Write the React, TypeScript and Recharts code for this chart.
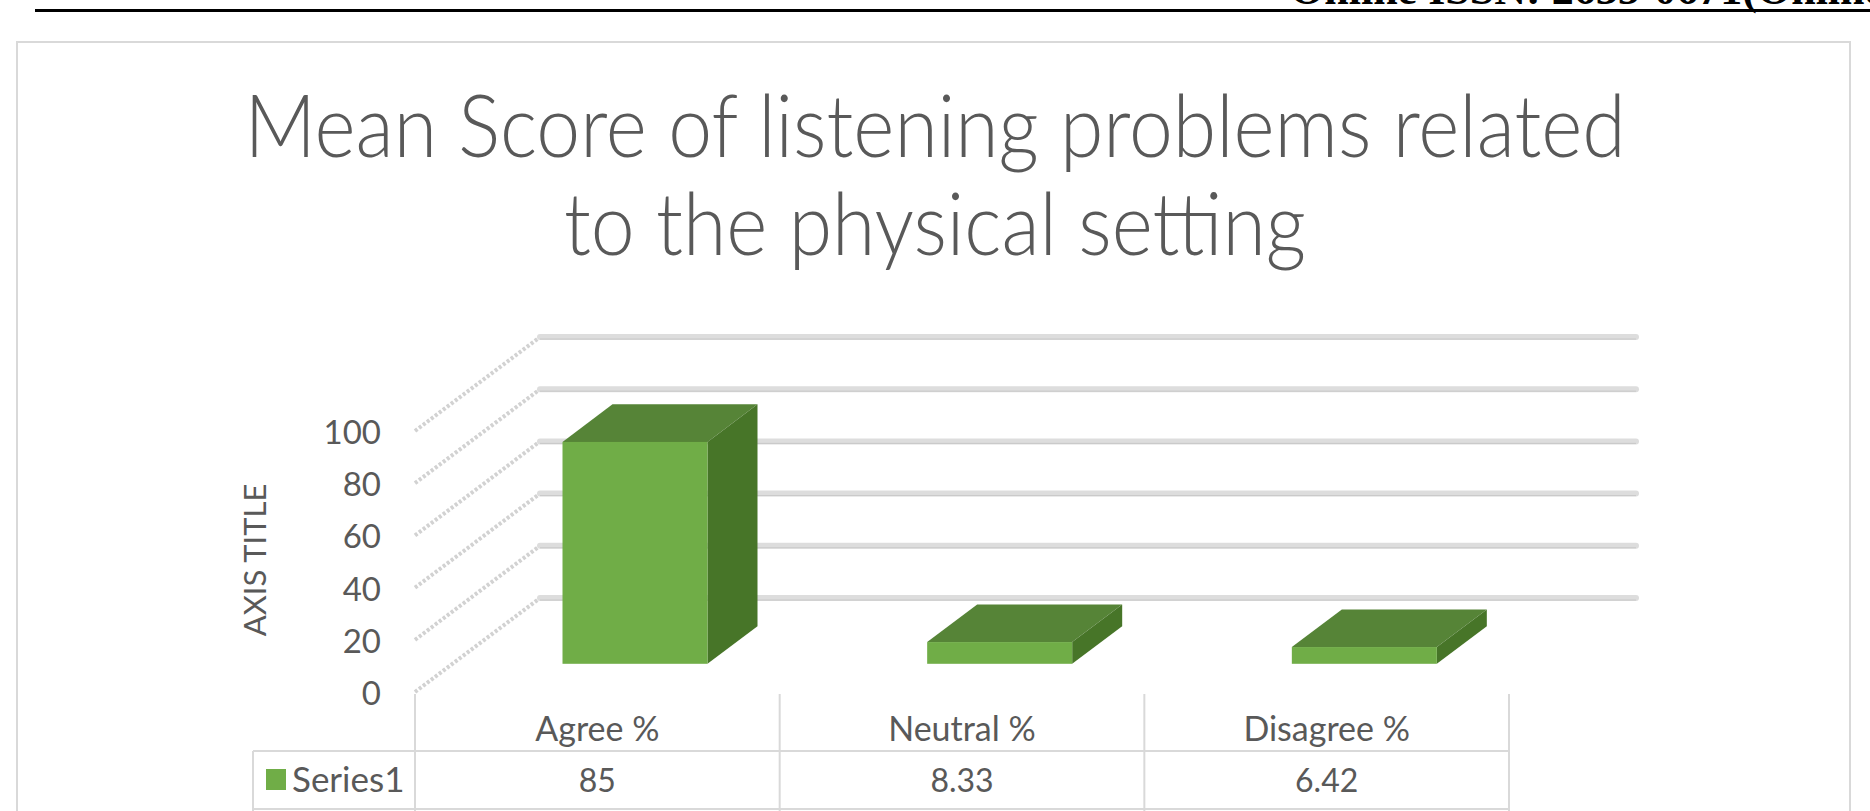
import React from "react";
import { BarChart, Bar, XAxis, YAxis, CartesianGrid } from "recharts";

const CATEGORIES = ["Agree %", "Neutral %", "Disagree %"];
const SERIES1 = [85, 8.33, 6.42];
const SERIES_NAME = "Series1";
const Y_TICKS = [0, 20, 40, 60, 80, 100];
const TITLE_LINES = ["Mean Score of listening problems related", "to the physical setting"];

const data = CATEGORIES.map((name, i) => ({ name, value: SERIES1[i] }));

// layout of the picture (px)
const W = 1870;
const H = 811;
const PLOT_LEFT = 415;
const PLOT_RIGHT = 1509;
const PLOT_TOP = 431;
const PLOT_BOTTOM = 692;
const BAND = (PLOT_RIGHT - PLOT_LEFT) / CATEGORIES.length;
const DX = 125; // 3d depth
const DY = -94;
const TEXT = "#595959";
const LINE = "#d9d9d9";
const FRONT = "#70ad47";
const TOP = "#568437";
const SIDE = "#477528";
const FONT = "Lato, 'Open Sans', sans-serif";

function Bar3D(props: any) {
  const { x, y, width, height } = props;
  if (width == null || height == null) return null;
  const fx = x + DX * 0.3;
  const fy = y + DY * 0.3;
  const bx = DX * 0.4;
  const by = DY * 0.4;
  return (
    <g>
      <polygon
        points={`${fx},${fy} ${fx + bx},${fy + by} ${fx + width + bx},${fy + by} ${fx + width},${fy}`}
        fill={TOP}
      />
      <polygon
        points={`${fx + width},${fy} ${fx + width + bx},${fy + by} ${fx + width + bx},${fy + height + by} ${fx + width},${fy + height}`}
        fill={SIDE}
      />
      <rect x={fx} y={fy} width={width} height={height} fill={FRONT} />
    </g>
  );
}

// side wall + back wall lines for each y tick
function gridLine(props: any) {
  const { x1, x2, y1, index } = props;
  return (
    <g key={`grid-${index}-${y1}`}>
      <line
        x1={x1}
        y1={y1}
        x2={x1 + DX}
        y2={y1 + DY}
        stroke="#d2d2d2"
        strokeWidth={4}
        strokeDasharray="3 2"
      />
      <line
        x1={x1 + DX}
        y1={y1 + DY}
        x2={x2 + DX + 2}
        y2={y1 + DY}
        stroke="#dddddd"
        strokeWidth={6}
        strokeLinecap="round"
      />
      <line
        x1={x1 + DX}
        y1={y1 + DY + 2}
        x2={x2 + DX + 2}
        y2={y1 + DY + 2}
        stroke="#c8c8c8"
        strokeWidth={1}
      />
    </g>
  );
}

function YTick(props: any) {
  const { x, y, payload } = props;
  return (
    <text x={x} y={y} textAnchor="end" dominantBaseline="central" fill={TEXT} fontSize={33} fontFamily={FONT}>
      {payload.value}
    </text>
  );
}

// category labels plus the data table under the axis
function XTick(props: any) {
  const { x, y, payload, index } = props;
  const left = x - BAND / 2;
  const right = x + BAND / 2;
  const rowY = y + 59;
  const bottomY = y + 117;
  return (
    <g>
      <text x={x} y={y + 49} textAnchor="middle" fill={TEXT} fontSize={34} fontFamily={FONT}>
        {payload.value}
      </text>
      <text x={x} y={y + 100} textAnchor="middle" fill={TEXT} fontSize={32} fontFamily={FONT}>
        {SERIES1[index]}
      </text>
      <line x1={right} y1={y + 2} x2={right} y2={H} stroke={LINE} strokeWidth={2} />
      <line x1={left} y1={rowY} x2={right} y2={rowY} stroke={LINE} strokeWidth={2} />
      <line x1={left} y1={bottomY} x2={right} y2={bottomY} stroke={LINE} strokeWidth={2} />
      {index === 0 && (
        <g>
          <line x1={left} y1={y + 2} x2={left} y2={H} stroke={LINE} strokeWidth={2} />
          <line x1={253} y1={rowY} x2={left} y2={rowY} stroke={LINE} strokeWidth={2} />
          <line x1={253} y1={bottomY} x2={left} y2={bottomY} stroke={LINE} strokeWidth={2} />
          <line x1={253} y1={rowY} x2={253} y2={H} stroke={LINE} strokeWidth={2} />
          <rect x={266} y={769} width={20} height={21} fill={FRONT} />
          <text x={292} y={y + 100} fill={TEXT} fontSize={35} fontFamily={FONT}>
            {SERIES_NAME}
          </text>
        </g>
      )}
    </g>
  );
}

export default function App() {
  return (
    <div
      style={{
        position: "absolute",
        left: 0,
        top: 0,
        width: W,
        height: H,
        overflow: "hidden",
        background: "#fff",
      }}
    >
      <svg width={W} height={H} style={{ position: "absolute", left: 0, top: 0 }}>
        <text x={1290} y={4} fill="#000" fontSize={44} fontWeight="bold" fontFamily="'Liberation Serif', serif">
          Online ISSN: 2635-0671(Online)
        </text>
        <rect x={35} y={9} width={W - 35} height={3} fill="#000" />
        <rect x={17} y={42} width={1833} height={820} fill="none" stroke={LINE} strokeWidth={2} />
        {TITLE_LINES.map((line, i) => (
          <text
            key={line}
            transform={`translate(935, ${157 + i * 98}) scale(0.915, 1)`}
            textAnchor="middle"
            fill={TEXT}
            fontSize={86}
            fontWeight={300}
            fontFamily={FONT}
          >
            {line}
          </text>
        ))}
        <text
          transform="translate(254, 560) rotate(-90)"
          textAnchor="middle"
          dominantBaseline="central"
          fill={TEXT}
          fontSize={31}
          fontFamily={FONT}
        >
          AXIS TITLE
        </text>
      </svg>
      <div style={{ position: "absolute", left: 0, top: 0 }}>
        <BarChart
          width={W}
          height={H}
          data={data}
          margin={{ top: PLOT_TOP, right: W - PLOT_RIGHT, bottom: 0, left: PLOT_LEFT - 60 }}
          barSize={145}
        >
          <CartesianGrid vertical={false} horizontal={gridLine} />
          <XAxis
            dataKey="name"
            axisLine={false}
            tickLine={false}
            tickSize={0}
            tickMargin={0}
            height={H - PLOT_BOTTOM}
            interval={0}
            tick={<XTick />}
          />
          <YAxis
            domain={[0, 100]}
            ticks={Y_TICKS}
            axisLine={false}
            tickLine={false}
            tickSize={0}
            tickMargin={34}
            width={60}
            tick={<YTick />}
          />
          <Bar dataKey="value" name={SERIES_NAME} shape={<Bar3D />} isAnimationActive={false} />
        </BarChart>
      </div>
    </div>
  );
}
